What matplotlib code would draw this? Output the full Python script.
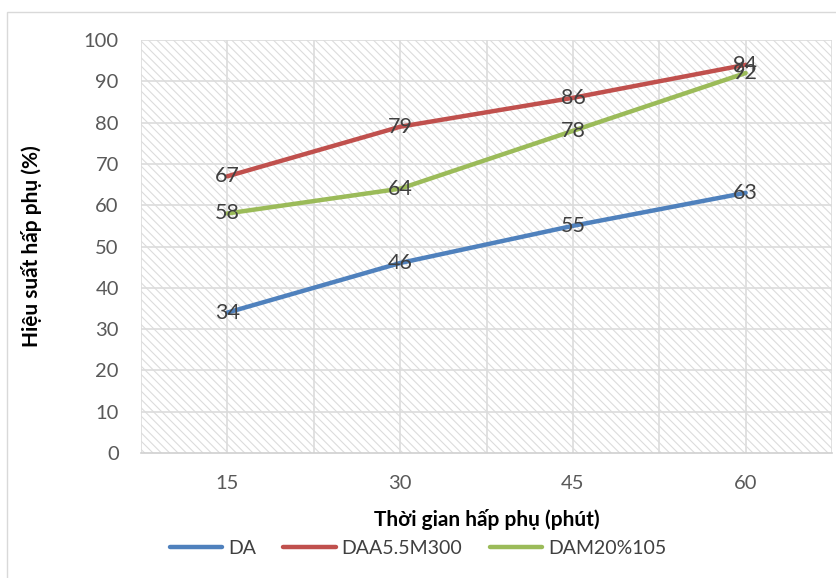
import matplotlib.pyplot as plt
from matplotlib.patches import Rectangle
from matplotlib.lines import Line2D

plt.rcParams['font.family'] = ['Lato', 'Noto Sans', 'DejaVu Sans']
plt.rcParams['hatch.color'] = '#dcdcdc'
plt.rcParams['hatch.linewidth'] = 0.8

# thoi gian hap phu (phut)
times = ['15', '30', '45', '60']
da = [34, 46, 55, 63]
daa = [67, 79, 86, 94]
dam = [58, 64, 78, 92]

series = [('DA', da, '#4f81bd'),
          ('DAA5.5M300', daa, '#c0504d'),
          ('DAM20%105', dam, '#9bbb59')]

fig = plt.figure(figsize=(8.36, 5.78), dpi=100)
# khung ngoai
fig.patches.append(Rectangle((7 / 836, -0.01), 1.0, 1 - 12 / 578 + 0.01,
                             transform=fig.transFigure, fill=False,
                             edgecolor='#d9d9d9', linewidth=1.0))

ax = fig.add_axes([141 / 836, 1 - 453 / 578, (832 - 141) / 836, (453 - 40) / 578])
x = list(range(1, len(times) + 1))

ax.add_patch(Rectangle((0.5, 0), 4, 100, facecolor='white', hatch='\\\\\\\\',
                       edgecolor='#dcdcdc', linewidth=0, zorder=0))

ax.set_xlim(0.5, 4.5)
ax.set_ylim(0, 100)
ax.set_yticks(range(0, 101, 10))
ax.set_xticks(x)
ax.set_xticklabels(times)
for yv in range(10, 101, 10):
    ax.axhline(yv, color='#dcdcdc', linewidth=1.2, zorder=1)
for xv in [0.5, 1, 1.5, 2, 2.5, 3, 3.5, 4, 4.5]:
    ax.axvline(xv, color='#dcdcdc', linewidth=1.2, zorder=1)

for name, vals, col in series:
    ax.plot(x, vals, color=col, linewidth=3.2, solid_capstyle='round', zorder=3)
    for xi, v in zip(x, vals):
        ax.text(xi, v, str(v), ha='center', va='center', fontsize=15.5,
                color='#404040', zorder=4)

for s in ['top', 'right', 'left']:
    ax.spines[s].set_visible(False)
ax.spines['bottom'].set_color('#d0d0d0')
ax.spines['bottom'].set_linewidth(1.2)
ax.tick_params(length=0, labelsize=14.5, labelcolor='#595959')
ax.tick_params(axis='x', pad=16)
ax.tick_params(axis='y', pad=16)

ax.set_xlabel('Thời gian hấp phụ (phút)', fontsize=15, fontweight='bold', labelpad=12)
ax.set_ylabel('Hiệu suất hấp phụ (%)', fontsize=15, fontweight='bold', labelpad=30)

handles = [Line2D([], [], color=c, linewidth=3.2, solid_capstyle='round') for _, _, c in series]
fig.legend(handles, [n for n, _, _ in series], loc='center', bbox_to_anchor=(418 / 836, 1 - 548 / 578),
           ncol=3, frameon=False, fontsize=14, handlelength=2.7, handletextpad=0.3,
           columnspacing=1.4, labelcolor='#404040')

plt.savefig('out.png', dpi=100)
